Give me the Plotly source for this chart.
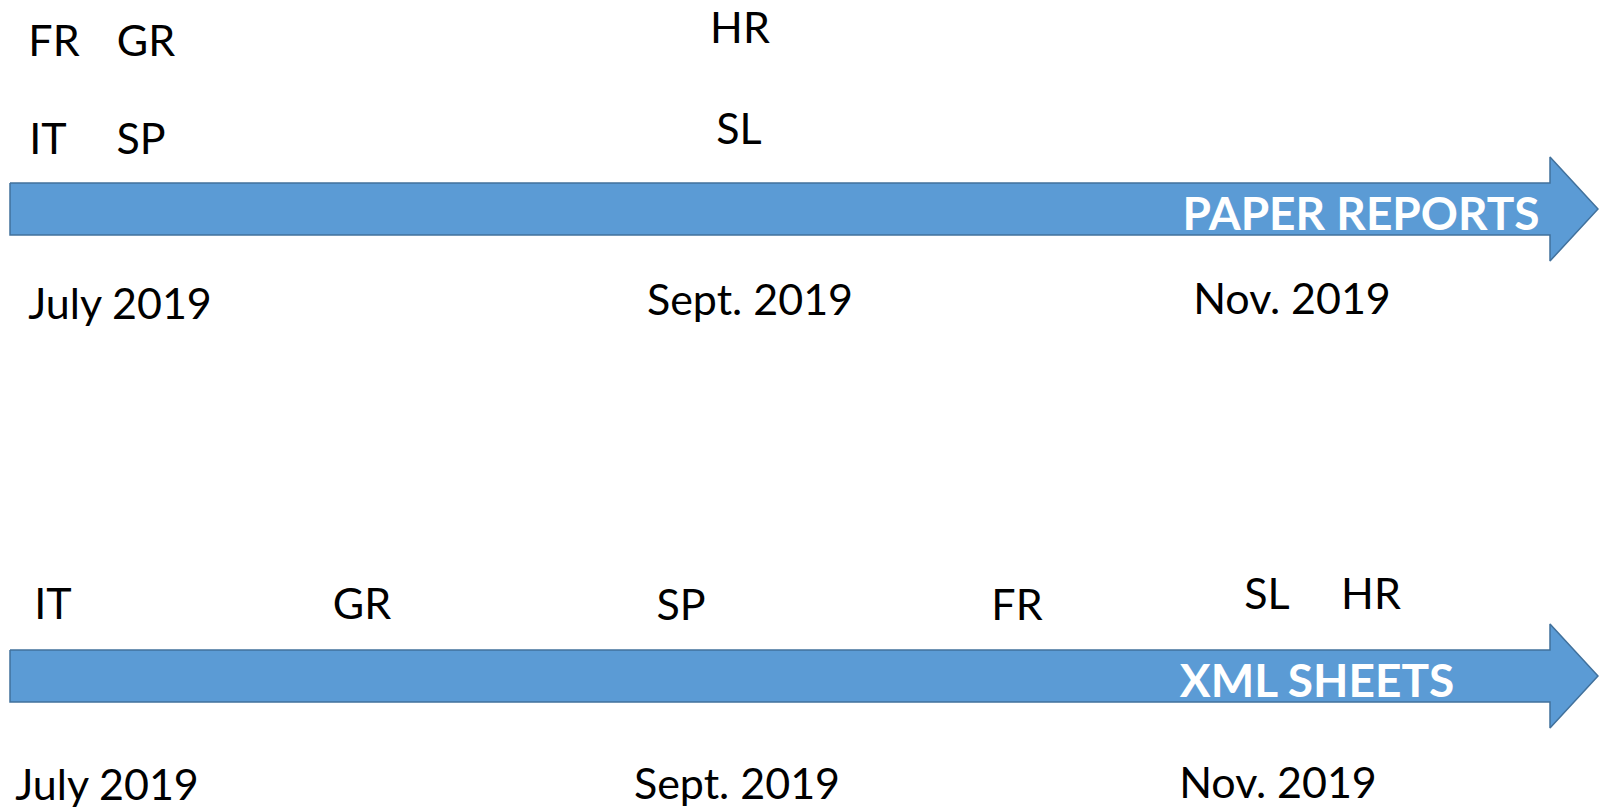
import plotly.graph_objects as go

# ---- data ----
timelines = ["PAPER REPORTS", "XML SHEETS"]
timeline_y = [209, 676]          # centre line of each arrow (canvas units)
timeline_title_x = [1361, 1317]
timeline_title_y = [218, 685]

month_labels = ["July 2019", "Sept. 2019", "Nov. 2019"]
month_x_top = [120, 750, 1292]
month_y_top = [308, 304, 303]
month_x_bottom = [107, 737, 1278]
month_y_bottom = [789, 788, 787]

top_countries = ["FR", "GR", "IT", "SP", "HR", "SL"]
top_x = [54, 146, 48, 141, 740, 739]
top_y = [45, 45, 143, 143, 32, 133]

bottom_countries = ["IT", "GR", "SP", "FR", "SL", "HR"]
bottom_x = [53, 362, 681, 1017, 1267, 1371]
bottom_y = [608, 608, 609, 609, 598, 598]

# ---- style ----
FILL = "#5B9BD5"
EDGE = "#41719C"
FONT = "Lato"
X0, HEAD_X, TIP_X = 10, 1550, 1598
SHAFT_H, HEAD_H = 26, 52

fig = go.Figure()

for cy in timeline_y:
    xs = [X0, HEAD_X, HEAD_X, TIP_X, HEAD_X, HEAD_X, X0, X0]
    ys = [cy - SHAFT_H, cy - SHAFT_H, cy - HEAD_H, cy, cy + HEAD_H,
          cy + SHAFT_H, cy + SHAFT_H, cy - SHAFT_H]
    fig.add_trace(go.Scatter(x=xs, y=ys, mode="lines", fill="toself",
                             fillcolor=FILL, line=dict(color=EDGE, width=1.5),
                             hoverinfo="skip", showlegend=False))

fig.add_trace(go.Scatter(x=timeline_title_x, y=timeline_title_y, text=timelines,
                         mode="text", textposition="middle center",
                         textfont=dict(family=FONT, size=46, color="white", weight="bold"),
                         hoverinfo="skip", showlegend=False))

label_font = dict(family=FONT, size=43, color="black")
for xs, ys, txt in [(month_x_top, month_y_top, month_labels),
                    (month_x_bottom, month_y_bottom, month_labels),
                    (top_x, top_y, top_countries),
                    (bottom_x, bottom_y, bottom_countries)]:
    fig.add_trace(go.Scatter(x=xs, y=ys, text=txt, mode="text",
                             textposition="middle center", textfont=label_font,
                             hoverinfo="skip", showlegend=False))

fig.update_layout(
    width=1599, height=812,
    margin=dict(l=0, r=0, t=0, b=0),
    paper_bgcolor="white", plot_bgcolor="white",
    xaxis=dict(range=[0, 1599], visible=False, fixedrange=True),
    yaxis=dict(range=[812, 0], visible=False, fixedrange=True),
)

fig.write_html("out.html",
               config={"displayModeBar": False},
               post_script="document.body.style.margin='0';document.body.style.overflow='hidden';")
